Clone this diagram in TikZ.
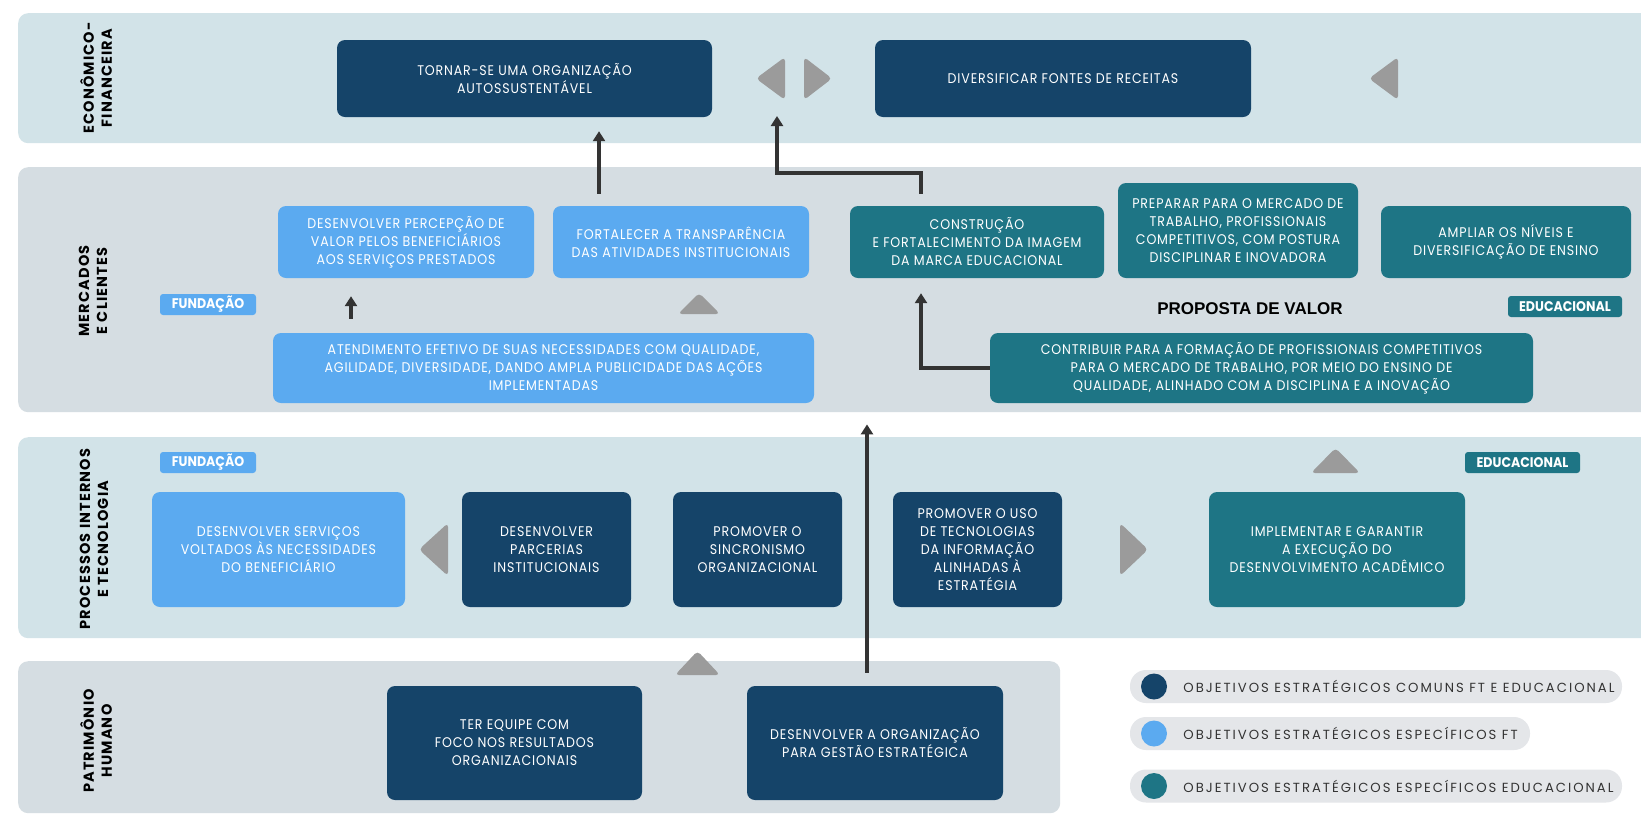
\documentclass[tikz,border=0pt]{standalone}
\usepackage{fontspec}
\setmainfont{Poppins}
\newfontfamily\boxfont{Poppins}[FakeStretch=0.9, LetterSpace=6]
\newfontfamily\tagfont{Poppins}[FakeStretch=0.9]
\newfontfamily\lblfont{Poppins}[LetterSpace=8]
\newfontfamily\legfont{Poppins}[LetterSpace=15]
\newfontfamily\headfont{Liberation Sans}
\usetikzlibrary{
  arrows.meta,
  positioning
}
\definecolor{navy}{HTML}{154469}
\definecolor{sky}{HTML}{5BAAF0}
\definecolor{tealbox}{HTML}{1E7585}
\definecolor{bandA}{HTML}{D2E3E8}
\definecolor{bandB}{HTML}{D5DDE2}
\definecolor{trigray}{HTML}{9B9B9B}
\definecolor{pill}{HTML}{E4E6E9}
\definecolor{ink}{HTML}{333333}

\begin{document}
\begin{tikzpicture}[x=1pt, y=-1pt,
    band/.style={rounded corners=10pt, inner sep=0pt, anchor=north west},
    obj/.style={rounded corners=8pt, text=white, align=center, inner sep=0pt,
      font=\boxfont\fontsize{14}{18}\selectfont},
    dk/.style={obj, fill=navy},
    lt/.style={obj, fill=sky},
    tl/.style={obj, fill=tealbox},
    tagbox/.style={rounded corners=3pt, text=white, inner sep=0pt, minimum height=21pt,
      font=\tagfont\bfseries\fontsize{14}{15}\selectfont},
    lbl/.style={rotate=90, align=center, font=\lblfont\bfseries\fontsize{14.5}{18}\selectfont},
    arr/.style={-{Triangle[length=10pt,width=12pt]}, line width=3.4pt, draw=ink},
    tri/.style={fill=trigray, rounded corners=4pt},
    pillbox/.style={fill=pill, rounded corners=16pt, minimum height=33pt, inner sep=0pt},
    dot/.style={circle, minimum size=26pt, inner sep=0pt},
    legtxt/.style={text=ink, inner sep=0pt, font=\legfont\fontsize{13.2}{14}\selectfont}
  ]
  \useasboundingbox[fill=white] (0,0) rectangle (1641,815);
  \def\Wb{1642}
  % bands
  \node[band, fill=bandA, minimum width=\Wb pt, minimum height=130pt] (eco) at (18,13) {};
  \node[band, fill=bandB, minimum width=\Wb pt, minimum height=245pt] (mkt) at (18,167) {};
  \node[band, fill=bandA, minimum width=\Wb pt, minimum height=201pt] (proc) at (18,437) {};
  \node[band, fill=bandB, minimum width=1042pt, minimum height=152pt] (hum) at (18,661) {};
  \node[lbl] (ecoL) at (96,78) {ECONÔMICO-\\FINANCEIRA};
  \node[lbl] (mktL) at (93,291) {MERCADOS\\E CLIENTES};
  \node[lbl] (procL) at (94,539) {PROCESSOS INTERNOS\\E TECNOLOGIA};
  \node[lbl] (humL) at (96,741) {PATRIMÔNIO\\HUMANO};

  % economico-financeira
  \node[dk, minimum width=375pt, minimum height=77pt] (tornar) at (524.5,78.5)
    {TORNAR-SE UMA ORGANIZAÇÃO\\AUTOSSUSTENTÁVEL};
  \node[dk, minimum width=376pt, minimum height=77pt] (divers) at (1063,78.5)
    {DIVERSIFICAR FONTES DE RECEITAS};
  \fill[tri] (785,57) -- (756,78.5) -- (785,100) -- cycle;
  \fill[tri] (804,57) -- (832,78.5) -- (804,100) -- cycle;
  \fill[tri] (1398,57) -- (1369,78.5) -- (1398,100) -- cycle;
  \coordinate (tipL) at (777,116);

  % mercados e clientes
  \node[tagbox, fill=sky, minimum width=96pt] (tagF1) at (208,304.5) {FUNDAÇÃO};
  \node[tagbox, fill=tealbox, minimum width=114pt] (tagE1) at (1565,306.5) {EDUCACIONAL};
  \node[lt, minimum width=256pt, minimum height=72pt] (perc) at (406,242)
    {DESENVOLVER PERCEPÇÃO DE\\VALOR PELOS BENEFICIÁRIOS\\AOS SERVIÇOS PRESTADOS};
  \node[lt, minimum width=256pt, minimum height=72pt] (fort) at (681,242)
    {FORTALECER A TRANSPARÊNCIA\\DAS ATIVIDADES INSTITUCIONAIS};
  \node[tl, minimum width=254pt, minimum height=72pt] (constr) at (977,242)
    {CONSTRUÇÃO\\E FORTALECIMENTO DA IMAGEM\\DA MARCA EDUCACIONAL};
  \node[tl, minimum width=240pt, minimum height=95pt] (prep) at (1238,230.5)
    {PREPARAR PARA O MERCADO DE\\TRABALHO, PROFISSIONAIS\\COMPETITIVOS, COM POSTURA\\DISCIPLINAR E INOVADORA};
  \node[tl, minimum width=250pt, minimum height=72pt] (ampl) at (1506,242)
    {AMPLIAR OS NÍVEIS E\\DIVERSIFICAÇÃO DE ENSINO};
  \node[lt, minimum width=541pt, minimum height=70pt] (atend) at (543.5,368)
    {ATENDIMENTO EFETIVO DE SUAS NECESSIDADES COM QUALIDADE,\\AGILIDADE, DIVERSIDADE, DANDO AMPLA PUBLICIDADE DAS AÇÕES\\IMPLEMENTADAS};
  \node[tl, minimum width=543pt, minimum height=70pt] (contr) at (1261.5,368)
    {CONTRIBUIR PARA A FORMAÇÃO DE PROFISSIONAIS COMPETITIVOS\\PARA O MERCADO DE TRABALHO, POR MEIO DO ENSINO DE\\QUALIDADE, ALINHADO COM A DISCIPLINA E A INOVAÇÃO};
  \node[font=\headfont\bfseries\fontsize{17}{20}\selectfont] (prop) at (1250,309) {PROPOSTA DE VALOR};
  \fill[tri] (678,314) -- (699,293) -- (720,314) -- cycle;

  % processos internos
  \node[tagbox, fill=sky, minimum width=96pt] (tagF2) at (208,462.5) {FUNDAÇÃO};
  \node[tagbox, fill=tealbox, minimum width=115pt] (tagE2) at (1522.5,462.5) {EDUCACIONAL};
  \node[lt, minimum width=253pt, minimum height=115pt] (servic) at (278.5,549.5)
    {DESENVOLVER SERVIÇOS\\VOLTADOS ÀS NECESSIDADES\\DO BENEFICIÁRIO};
  \node[dk, minimum width=169pt, minimum height=115pt] (parc) at (546.5,549.5)
    {DESENVOLVER\\PARCERIAS\\INSTITUCIONAIS};
  \node[dk, minimum width=169pt, minimum height=115pt] (sinc) at (757.5,549.5)
    {PROMOVER O\\SINCRONISMO\\ORGANIZACIONAL};
  \node[dk, minimum width=169pt, minimum height=115pt] (tecn) at (977.5,549.5)
    {PROMOVER O USO\\DE TECNOLOGIAS\\DA INFORMAÇÃO\\ALINHADAS À\\ESTRATÉGIA};
  \node[tl, minimum width=256pt, minimum height=115pt] (impl) at (1337,549.5)
    {IMPLEMENTAR E GARANTIR\\A EXECUÇÃO DO\\DESENVOLVIMENTO ACADÊMICO};
  \fill[tri] (448,523) -- (419,549.5) -- (448,576) -- cycle;
  \fill[tri] (1120,523) -- (1148,549.5) -- (1120,576) -- cycle;
  \fill[tri] (1311,473) -- (1335.5,448) -- (1360,473) -- cycle;

  % patrimonio humano
  \node[dk, minimum width=255pt, minimum height=114pt] (equipe) at (514.5,743)
    {TER EQUIPE COM\\FOCO NOS RESULTADOS\\ORGANIZACIONAIS};
  \node[dk, minimum width=256pt, minimum height=114pt] (desorg) at (875,743)
    {DESENVOLVER A ORGANIZAÇÃO\\PARA GESTÃO ESTRATÉGICA};
  \fill[tri] (675,675) -- (697.5,651) -- (720,675) -- cycle;

  % arrows
  \draw[arr, shorten <=12pt, shorten >=14pt] ([xshift=-82pt]fort.north) -- ([xshift=-82pt]fort.north |- tornar.south);
  \draw[arr, shorten <=12pt] ([xshift=-56pt]constr.north) -- ++(0,-33) -| (tipL);
  \draw[arr, shorten >=15pt] (contr.west) -| ([xshift=-56pt]constr.south);
  \draw[arr, shorten <=14pt, shorten >=18pt] ([xshift=-55pt]perc.south |- atend.north) -- ([xshift=-55pt]perc.south);
  \draw[arr, shorten <=13pt, shorten >=12pt] ([xshift=-8pt]desorg.north) -- ([xshift=-8pt]desorg.north |- mkt.south);

  % legend
  \node[pillbox, minimum width=492pt] (leg1) at (1376,686.5) {};
  \node[pillbox, minimum width=400pt] (leg2) at (1330,733.5) {};
  \node[pillbox, minimum width=492pt] (leg3) at (1376,786) {};
  \node[dot, fill=navy] (d1) at (1154,686.5) {};
  \node[dot, fill=sky] (d2) at (1154,733.5) {};
  \node[dot, fill=tealbox] (d3) at (1154,786) {};
  \node[legtxt, right=16pt of d1] (t1) {OBJETIVOS ESTRATÉGICOS COMUNS FT E EDUCACIONAL};
  \node[legtxt, right=16pt of d2] (t2) {OBJETIVOS ESTRATÉGICOS ESPECÍFICOS FT};
  \node[legtxt, right=16pt of d3] (t3) {OBJETIVOS ESTRATÉGICOS ESPECÍFICOS EDUCACIONAL};
\end{tikzpicture}
\end{document}
